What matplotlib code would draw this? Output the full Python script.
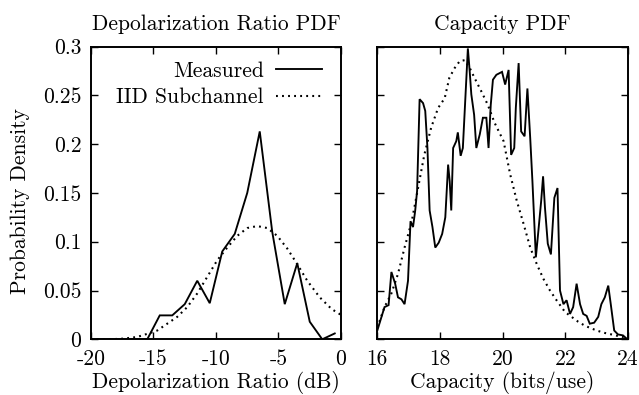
import matplotlib
matplotlib.use("Agg")
import matplotlib.pyplot as plt

plt.rcParams['font.family'] = 'serif'
plt.rcParams['font.serif'] = ['cmr10', 'DejaVu Serif']
plt.rcParams['mathtext.fontset'] = 'cm'
plt.rcParams['axes.formatter.use_mathtext'] = True

FS = 15.5

# ---- data: Depolarization ratio PDF ----
dep_x_meas = [-19.5, -18.5, -17.5, -16.5, -15.5, -14.5, -13.5, -12.5, -11.5, -10.5,
              -9.5, -8.5, -7.5, -6.5, -5.5, -4.5, -3.5, -2.5, -1.5, -0.5]
dep_y_meas = [0, 0, 0, 0, 0, 0.0245, 0.0245, 0.036, 0.060, 0.037,
              0.090, 0.108, 0.150, 0.213, 0.110, 0.036, 0.078, 0.018, 0, 0.006]
dep_x_iid = [-20, -18.5, -17.4, -16.3, -15.4, -14.7, -13.9, -13.1, -12.3, -11.5, -10.7, -9.9,
             -9.1, -8.3, -7.5, -6.7, -5.9, -5.1, -4.3, -3.5, -2.7, -1.7, -0.75, 0]
dep_y_iid = [0, 0, 0.0007, 0.0024, 0.006, 0.009, 0.016, 0.023, 0.033, 0.047, 0.064, 0.081,
             0.094, 0.106, 0.114, 0.116, 0.114, 0.106, 0.093, 0.077, 0.060, 0.043, 0.031, 0.025]

# ---- data: Capacity PDF ----
cap_x_meas = [16.0, 16.23, 16.36, 16.45, 16.57, 16.66, 16.77, 16.87, 16.98, 17.06,
              17.14, 17.21, 17.27, 17.35, 17.46, 17.53, 17.6, 17.67, 17.76, 17.85,
              17.96, 18.07, 18.17, 18.26, 18.31, 18.36, 18.42, 18.52, 18.57, 18.66,
              18.73, 18.81, 18.89, 18.95, 19.0, 19.09, 19.16, 19.27, 19.37, 19.48,
              19.55, 19.62, 19.69, 19.8, 19.98, 20.08, 20.19, 20.27, 20.37, 20.42,
              20.51, 20.59, 20.7, 20.79, 20.88, 20.95, 21.06, 21.14, 21.23, 21.29,
              21.35, 21.44, 21.54, 21.65, 21.75, 21.83, 21.94, 22.04, 22.15, 22.25,
              22.36, 22.47, 22.57, 22.68, 22.78, 22.92, 23.05, 23.15, 23.26, 23.37,
              23.45, 23.56, 23.68, 23.84, 23.98]
cap_y_meas = [0.009, 0.033, 0.035, 0.069, 0.057, 0.043, 0.041, 0.036, 0.060, 0.121,
              0.115, 0.132, 0.152, 0.246, 0.242, 0.234, 0.196, 0.132, 0.115, 0.094,
              0.099, 0.108, 0.125, 0.179, 0.162, 0.132, 0.196, 0.203, 0.212, 0.188,
              0.196, 0.247, 0.298, 0.274, 0.251, 0.230, 0.196, 0.21, 0.227, 0.227,
              0.196, 0.240, 0.266, 0.271, 0.274, 0.261, 0.276, 0.189, 0.196, 0.237,
              0.283, 0.213, 0.208, 0.257, 0.206, 0.162, 0.084, 0.111, 0.142, 0.167,
              0.135, 0.098, 0.087, 0.145, 0.155, 0.050, 0.036, 0.040, 0.026, 0.033,
              0.057, 0.036, 0.026, 0.024, 0.016, 0.017, 0.023, 0.036, 0.043, 0.055,
              0.036, 0.009, 0.005, 0.004, 0.0]
cap_x_iid = [16.0, 16.23, 16.45, 16.66, 16.87, 17.1, 17.3, 17.5, 17.72, 17.94,
             18.15, 18.3, 18.47, 18.63, 18.79, 18.95, 19.1, 19.32, 19.53, 19.74,
             20.03, 20.24, 20.45, 20.67, 20.88, 21.09, 21.3, 21.51, 21.72, 21.99,
             22.2, 22.41, 22.62, 22.84, 23.05, 23.26, 23.47, 23.68, 23.95]
cap_y_iid = [0.012, 0.033, 0.047, 0.067, 0.094, 0.121, 0.155, 0.189, 0.217, 0.237,
             0.247, 0.268, 0.278, 0.285, 0.286, 0.278, 0.268, 0.254, 0.240, 0.222,
             0.203, 0.169, 0.142, 0.118, 0.094, 0.077, 0.062, 0.050, 0.040, 0.028,
             0.023, 0.018, 0.014, 0.011, 0.0085, 0.0065, 0.005, 0.0034, 0.0017]

dep_xticks = [-20, -15, -10, -5, 0]
dep_xticklabels = ['-20', '-15', '-10', '-5', '0']
cap_xticks = [16, 18, 20, 22, 24]
cap_xticklabels = ['16', '18', '20', '22', '24']
yticks = [0, 0.05, 0.1, 0.15, 0.2, 0.25, 0.3]
yticklabels = ['0', '0.05', '0.1', '0.15', '0.2', '0.25', '0.3']

fig = plt.figure(figsize=(6.39, 3.95), dpi=100)
W, H = 639, 395
bottom = (H - 339.3) / H
height = (339.3 - 46.5) / H
ax1 = fig.add_axes([91 / W, bottom, (341 - 91) / W, height])
ax2 = fig.add_axes([377.3 / W, bottom, (628 - 377.3) / W, height])

solid_kw = dict(color='black', lw=1.35, solid_joinstyle='miter')
dot_kw = dict(color='black', lw=1.5, linestyle=(0, (0.9, 2.0)))

ax1.plot(dep_x_meas, dep_y_meas, label='Measured', **solid_kw)
ax1.plot(dep_x_iid, dep_y_iid, label='IID Subchannel', **dot_kw)
ax2.plot(cap_x_meas, cap_y_meas, **solid_kw)
ax2.plot(cap_x_iid, cap_y_iid, **dot_kw)

for ax in (ax1, ax2):
    ax.set_ylim(0, 0.3)
    ax.set_yticks(yticks)
    ax.tick_params(direction='in', length=5, width=1.0, top=True, right=True,
                   labelsize=FS, pad=7)
    for s in ax.spines.values():
        s.set_linewidth(1.4)

ax1.set_xlim(-20, 0)
ax1.set_xticks(dep_xticks)
ax1.set_xticklabels(dep_xticklabels)
ax1.set_yticklabels(yticklabels)
ax2.set_xlim(16, 24)
ax2.set_xticks(cap_xticks)
ax2.set_xticklabels(cap_xticklabels)
ax2.set_yticklabels([])

ax1.set_title('Depolarization Ratio PDF', fontsize=FS, pad=12)
ax2.set_title('Capacity PDF', fontsize=FS, pad=12)
ax1.set_xlabel('Depolarization Ratio (dB)', fontsize=FS, labelpad=2)
ax2.set_xlabel('Capacity (bits/use)', fontsize=FS, labelpad=2)
fig.text(20.5 / W, 1 - 201 / H, 'Probability Density', rotation=90,
         ha='center', va='center', fontsize=FS)

ax1.legend(loc='upper right', bbox_to_anchor=(1 - 19 / 250, 1 - 15 / 293),
           frameon=False, markerfirst=False, fontsize=FS, handlelength=2.15,
           handletextpad=0.55, labelspacing=0.32, borderaxespad=0, borderpad=0)

fig.savefig('out.png', dpi=100)
